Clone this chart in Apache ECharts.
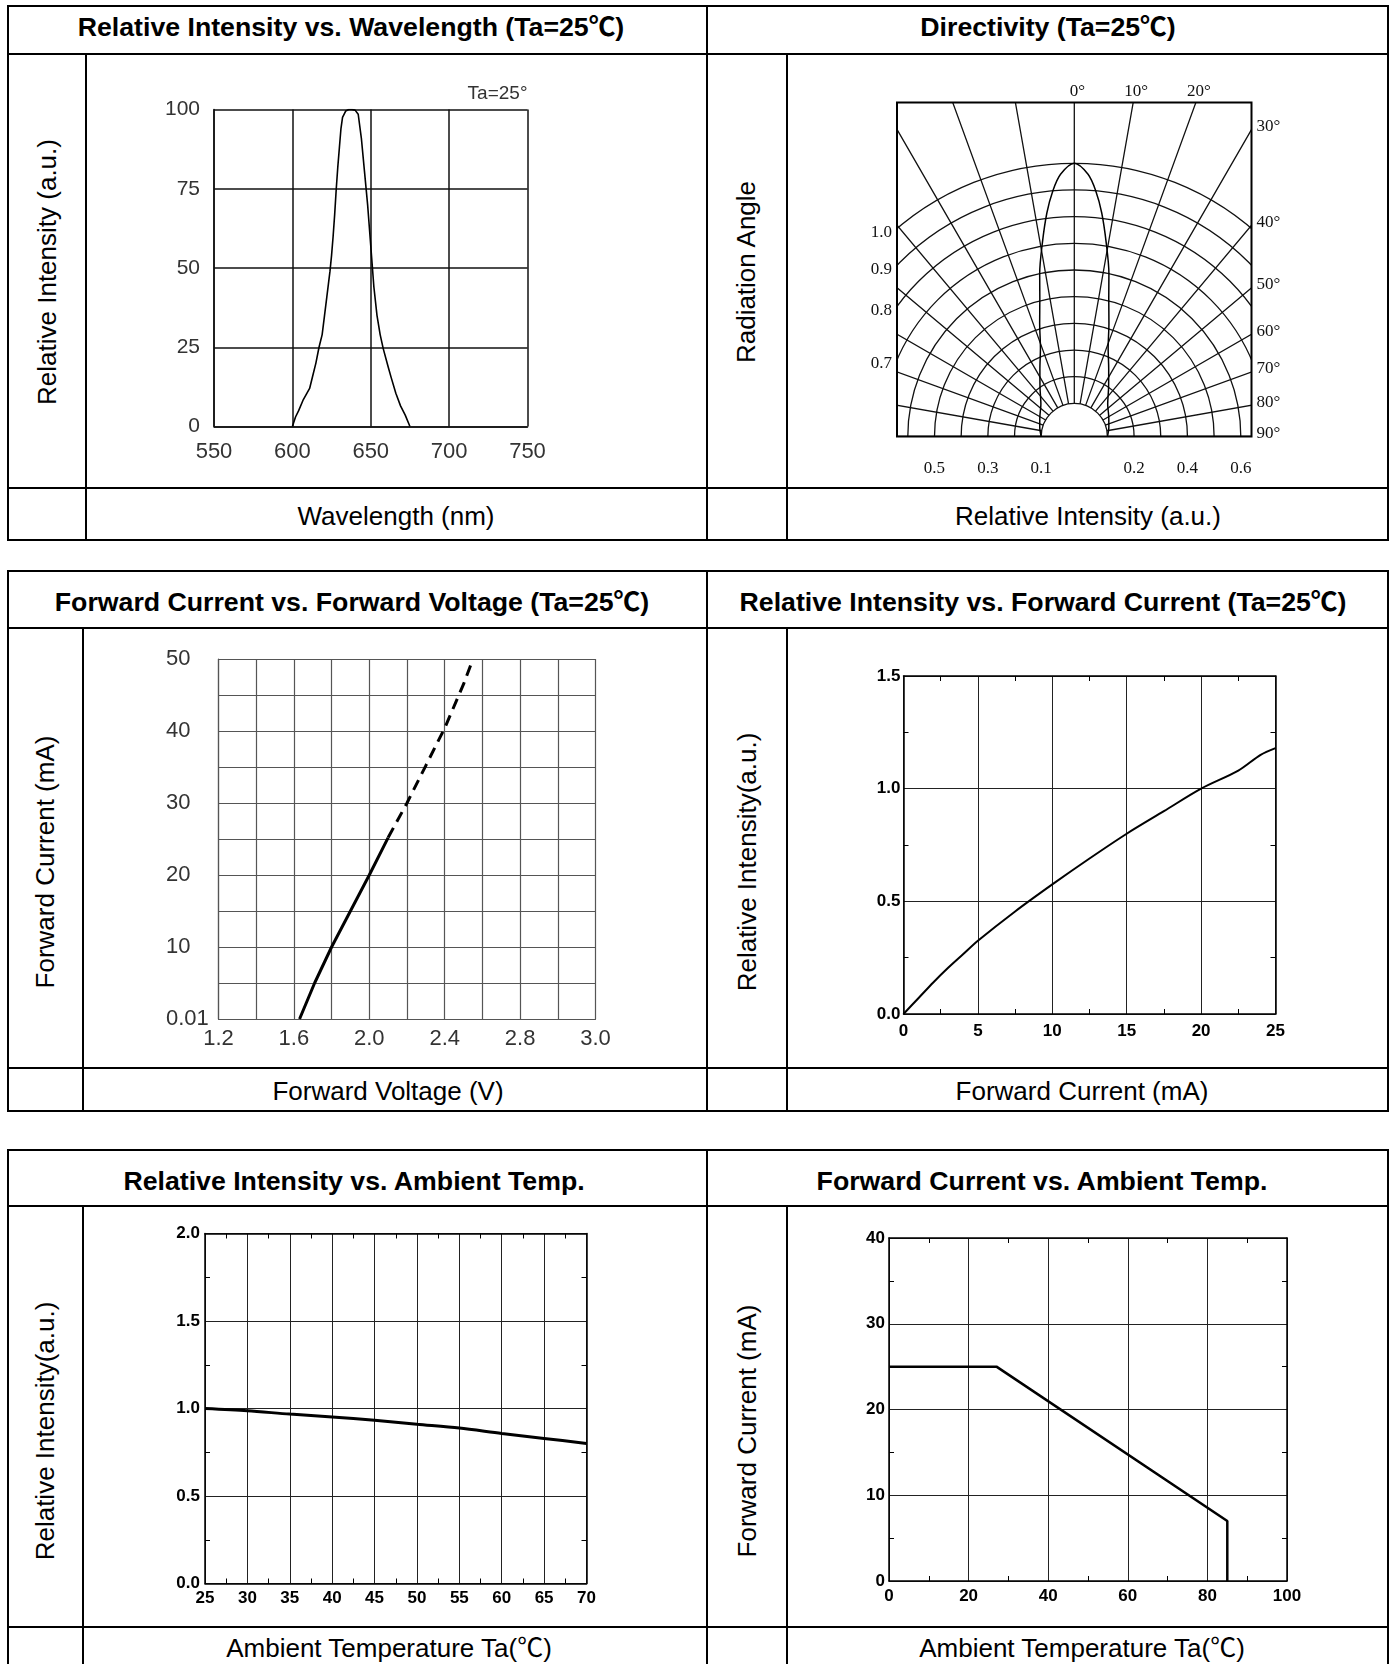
<!DOCTYPE html>
<html>
<head>
<meta charset="utf-8">
<title>LED characteristic curves</title>
<script src="https://cdn.jsdelivr.net/npm/echarts@6.0.0/dist/echarts.min.js"></script>
<style>
body{margin:0;background:#fff;}
#page{position:relative;width:1392px;height:1664px;overflow:hidden;background:#fff;
  font-family:"Liberation Sans",Arial,"Noto Sans CJK SC",sans-serif;color:#000;}
.chart{position:absolute;}
.rule{position:absolute;background:#000;z-index:5;}
.txt{position:absolute;white-space:nowrap;font-size:26px;line-height:1;transform:translate(-50%,-50%);z-index:6;}
.head{font-weight:bold;font-size:26.7px;}
.rot{transform:translate(-50%,-50%) rotate(-90deg);}
</style>
</head>
<body>
<div id="page"></div>
<script>
// ---- data ----
// relative intensity vs wavelength
const spectrumNm  = [600,602,604,607,611,613,615,617,619,620.5,622,623,624,625,626,627,628,629,630,631,
                     632,634,636,638,640,642,644,646,648,650,652,654,656,658,661,663,666,669,672,675];
const spectrumRel = [0,3,5,8.5,12,16,20,25,29,35,41,45,49,54,60,67,75,82,88,94,
                     97.5,99.5,100,100,99.8,98.5,91,80.5,70,57,44,35,29,24.5,19,15.5,10.5,6.5,3.6,0];

// directivity lobe (angle in degrees, relative intensity)
const lobeAngle     = [-90,-75,-60,-46,-35,-27,-21,-17,-14,-12,-9.4,-7,-5,-3,0,3,5,7,9.4,12,14,17,21,27,35,46,60,75,90];
const lobeIntensity = [0.1,0.11,0.125,0.15,0.2,0.26,0.33,0.42,0.51,0.6,0.71,0.82,0.9,0.96,1.0,
                       0.96,0.9,0.82,0.71,0.6,0.51,0.42,0.33,0.26,0.2,0.15,0.125,0.11,0.1];
const dirTopLabels    = ['0°','10°','20°'];
const dirRightLabels  = ['30°','40°','50°','60°','70°','80°','90°'];
const dirLeftLabels   = ['1.0','0.9','0.8','0.7'];
const dirBottomLeft   = ['0.5','0.3','0.1'];
const dirBottomRight  = ['0.2','0.4','0.6'];

// forward current vs forward voltage
const fvVoltSolid = [1.63,1.71,1.80,1.90,2.00,2.10];
const fvCurSolid  = [0,5,10,15,20,25.2];
const fvVoltDash  = [2.10,2.20,2.30,2.40,2.50,2.55];
const fvCurDash   = [25.2,30,35.2,40.4,46.5,50];
const fvXLabels = ['1.2','','1.6','','2.0','','2.4','','2.8','','3.0'];
const fvYLabels = ['0.01','','10','','20','','30','','40','','50'];

// relative intensity vs forward current
const ifCurrent   = [0,1,2,3,4,5,7.5,10,12.5,15,17.5,20,22.5,24,25];
const ifIntensity = [0,0.07,0.14,0.205,0.265,0.325,0.455,0.575,0.69,0.80,0.90,1.0,1.08,1.15,1.18];

// relative intensity vs ambient temperature
const taTemp      = [25,30,35,40,45,50,55,60,65,70];
const taIntensity = [1.0,0.987,0.968,0.952,0.933,0.91,0.888,0.857,0.829,0.80];

// forward current derating vs ambient temperature
const derateTemp    = [0,27,85,85];
const derateCurrent = [25,25,7,0];

const pairs = (xs, ys) => xs.map((x, i) => [x, ys[i]]);

// ---- table layout ----
const page = document.getElementById('page');

function rule(x1, y1, x2, y2) {
  const d = document.createElement('div');
  d.className = 'rule';
  d.style.left = Math.round(x1 - 1) + 'px';
  d.style.top = Math.round(y1 - 1) + 'px';
  d.style.width = (y1 === y2 ? Math.round(x2 - x1 + 2) : 2) + 'px';
  d.style.height = (y1 === y2 ? 2 : Math.round(y2 - y1 + 2)) + 'px';
  page.appendChild(d);
}
function table(top, head, plot, bottom, colA, colB) {
  [top, head, plot, bottom].forEach(y => rule(8, y, 1388, y));
  [8, 707, 1388].forEach(x => rule(x, top, x, bottom));
  [colA, colB].forEach(x => rule(x, head, x, bottom));
}
table(6, 54, 488, 540, 86, 787);
table(571, 628, 1068, 1111, 83, 787);
table(1150, 1206, 1627, 1700, 83, 787);

function text(str, x, y, cls) {
  const d = document.createElement('div');
  d.className = 'txt ' + (cls || '');
  d.style.left = x + 'px';
  d.style.top = y + 'px';
  d.textContent = str;
  page.appendChild(d);
}
text('Relative Intensity vs. Wavelength (Ta=25℃)', 351, 27, 'head');
text('Directivity (Ta=25℃)', 1048, 27, 'head');
text('Forward Current vs. Forward Voltage (Ta=25℃)', 352, 602, 'head');
text('Relative Intensity vs. Forward Current (Ta=25℃)', 1043, 602, 'head');
text('Relative Intensity vs. Ambient Temp.', 354, 1181, 'head');
text('Forward Current vs. Ambient Temp.', 1042, 1181, 'head');

text('Wavelength (nm)', 396, 516);
text('Relative Intensity (a.u.)', 1088, 516);
text('Forward Voltage (V)', 388, 1091);
text('Forward Current (mA)', 1082, 1091);
text('Ambient Temperature Ta(℃)', 389, 1648);
text('Ambient Temperature Ta(℃)', 1082, 1648);

text('Relative Intensity (a.u.)', 47, 272, 'rot');
text('Radiation Angle', 746, 272, 'rot');
text('Forward Current (mA)', 45, 862, 'rot');
text('Relative Intensity(a.u.)', 747, 862, 'rot');
text('Relative Intensity(a.u.)', 45, 1431, 'rot');
text('Forward Current (mA)', 747, 1431, 'rot');

// ---- charts ----
const P = {
  wave: {x: 86,  y: 55,   w: 621, h: 433},
  dir:  {x: 787, y: 55,   w: 601, h: 433},
  fv:   {x: 83,  y: 629,  w: 624, h: 439},
  ifc:  {x: 787, y: 629,  w: 601, h: 439},
  ta:   {x: 83,  y: 1206, w: 624, h: 421},
  der:  {x: 787, y: 1206, w: 601, h: 421}
};
function makeChart(box) {
  const div = document.createElement('div');
  div.className = 'chart';
  div.style.left = box.x + 'px';
  div.style.top = box.y + 'px';
  div.style.width = box.w + 'px';
  div.style.height = box.h + 'px';
  page.appendChild(div);
  return echarts.init(div, null, {renderer: 'canvas'});
}
function gridIn(box, x1, y1, x2, y2) {
  return {left: x1 - box.x, top: y1 - box.y, width: x2 - x1, height: y2 - y1,
          containLabel: false, outerBoundsMode: 'none'};
}
const thinFont = {fontFamily: '"Liberation Sans", Arial, sans-serif', color: '#333'};
const boldFont = {fontFamily: '"Liberation Sans", Arial, sans-serif', fontWeight: 'bold', fontSize: 17, color: '#000'};

// axis with only a frame line and inward minor ticks (top / right edges)
function edgeAxis(pos, min, max, interval) {
  return {
    type: 'value', position: pos, min: min, max: max, interval: interval,
    axisLine: {show: true, onZero: false, lineStyle: {color: '#000', width: 1.5}},
    axisTick: {show: false, inside: true},
    minorTick: {show: true, splitNumber: 2, length: 5, lineStyle: {color: '#000', width: 1}},
    axisLabel: {show: false},
    splitLine: {show: false}
  };
}
function mainAxis(pos, min, max, interval, label) {
  return {
    type: 'value', position: pos, min: min, max: max, interval: interval,
    axisLine: {show: true, onZero: false, lineStyle: {color: '#000', width: 1.5}},
    axisTick: {show: false, inside: true},
    minorTick: {show: true, splitNumber: 2, length: 5, lineStyle: {color: '#000', width: 1}},
    splitLine: {show: true, lineStyle: {color: '#222', width: 1}},
    axisLabel: Object.assign({showMinLabel: true, showMaxLabel: true}, boldFont, label)
  };
}

// 1. relative intensity vs wavelength
const waveChart = makeChart(P.wave);
waveChart.setOption({
  animation: false,
  grid: gridIn(P.wave, 214, 109.5, 527.5, 426.5),
  xAxis: {
    type: 'value', min: 550, max: 750, interval: 50,
    axisLine: {show: true, onZero: false, lineStyle: {color: '#111', width: 1.5}},
    axisTick: {show: false},
    splitLine: {show: true, lineStyle: {color: '#111', width: 1.5}},
    axisLabel: Object.assign({fontSize: 22, margin: 14, showMinLabel: true, showMaxLabel: true}, thinFont)
  },
  yAxis: {
    type: 'value', min: 0, max: 100, interval: 25,
    axisLine: {show: true, onZero: false, lineStyle: {color: '#111', width: 1.5}},
    axisTick: {show: false},
    splitLine: {show: true, lineStyle: {color: '#111', width: 1.5}},
    axisLabel: Object.assign({fontSize: 21, margin: 14, showMinLabel: true, showMaxLabel: true}, thinFont)
  },
  graphic: [{
    type: 'text', x: 527.5 - P.wave.x, y: 94 - P.wave.y, silent: true,
    style: {text: 'Ta=25°', fill: '#333', font: '19px "Liberation Sans", Arial, sans-serif',
            textAlign: 'right', textVerticalAlign: 'middle', align: 'right', verticalAlign: 'middle'}
  }],
  series: [{
    type: 'line', data: pairs(spectrumNm, spectrumRel), symbol: 'none', silent: true,
    lineStyle: {color: '#000', width: 1.6}
  }]
});

// 2. directivity (polar grid, clipped to the rectangular frame)
const dirChart = makeChart(P.dir);
const fr = {x1: 897 - P.dir.x, y1: 102.5 - P.dir.y, x2: 1251.5 - P.dir.x, y2: 436.5 - P.dir.y};
const cx = 1074.3 - P.dir.x, cy = fr.y2;
const arcColors = [];
for (let i = 0; i < 15; i++) arcColors.push(i < 10 ? '#111' : 'rgba(0,0,0,0)');
dirChart.setOption({
  animation: false,
  polar: {center: [cx, cy], radius: [33.1, 406.6]},
  angleAxis: {
    type: 'value', min: -90, max: 90, interval: 10, startAngle: 180, endAngle: 0, clockwise: true,
    axisLine: {show: false}, axisTick: {show: false}, axisLabel: {show: false},
    splitLine: {show: true, lineStyle: {color: '#111', width: 1.3}}
  },
  radiusAxis: {
    type: 'value', min: 0.1, max: 1.5, interval: 0.1,
    axisLine: {show: false}, axisTick: {show: false}, axisLabel: {show: false},
    splitLine: {show: true, lineStyle: {color: arcColors, width: 1.3}}
  },
  series: [{
    type: 'line', coordinateSystem: 'polar', symbol: 'none', smooth: 0.3, silent: true,
    data: lobeIntensity.map((v, i) => [v, lobeAngle[i]]),
    lineStyle: {color: '#000', width: 1.5}
  }]
});
const toPx = (v, a) => dirChart.convertToPixel({seriesIndex: 0}, [v, a]);
const dirFont = '17px "Liberation Serif", serif';
function dirText(str, x, y, align) {
  return {type: 'text', x: x, y: y, z: 102, silent: true,
    style: {text: str, fill: '#111', font: dirFont, textAlign: align, textVerticalAlign: 'middle',
            align: align, verticalAlign: 'middle'}};
}
const dirGraphics = [
  {type: 'rect', z: 100, silent: true, shape: {x: 0, y: 0, width: P.dir.w, height: fr.y1}, style: {fill: '#fff'}},
  {type: 'rect', z: 100, silent: true, shape: {x: 0, y: fr.y2, width: P.dir.w, height: P.dir.h - fr.y2}, style: {fill: '#fff'}},
  {type: 'rect', z: 100, silent: true, shape: {x: 0, y: 0, width: fr.x1, height: P.dir.h}, style: {fill: '#fff'}},
  {type: 'rect', z: 100, silent: true, shape: {x: fr.x2, y: 0, width: P.dir.w - fr.x2, height: P.dir.h}, style: {fill: '#fff'}},
  {type: 'rect', z: 101, silent: true, shape: {x: fr.x1, y: fr.y1, width: fr.x2 - fr.x1, height: fr.y2 - fr.y1},
   style: {fill: 'none', stroke: '#000', lineWidth: 2}}
];
dirTopLabels.forEach(s => {
  const p = toPx(1, parseFloat(s));
  const x = cx + (p[0] - cx) * (cy - fr.y1) / (cy - p[1]);
  dirGraphics.push(dirText(s, x + 3, fr.y1 - 11, 'center'));
});
dirRightLabels.forEach(s => {
  const p = toPx(1, parseFloat(s));
  const y = cy + (p[1] - cy) * (fr.x2 - cx) / (p[0] - cx);
  dirGraphics.push(dirText(s, fr.x2 + 5, y - 3, 'left'));
});
dirLeftLabels.forEach(s => {
  const r = cy - toPx(parseFloat(s), 0)[1];
  const hw = cx - fr.x1;
  const y = cy - Math.sqrt(r * r - hw * hw);
  dirGraphics.push(dirText(s, fr.x1 - 5, y + 4, 'right'));
});
dirBottomLeft.forEach(s => {
  dirGraphics.push(dirText(s, toPx(parseFloat(s), -90)[0], fr.y2 + 32, 'center'));
});
dirBottomRight.forEach(s => {
  dirGraphics.push(dirText(s, toPx(parseFloat(s), 90)[0], fr.y2 + 32, 'center'));
});
dirChart.setOption({graphic: dirGraphics});

// 3. forward current vs forward voltage
const fvChart = makeChart(P.fv);
fvChart.setOption({
  animation: false,
  grid: gridIn(P.fv, 218.5, 659, 595.5, 1019),
  xAxis: {
    type: 'value', min: 1.2, max: 3.2, interval: 0.2,
    axisLine: {show: true, onZero: false, lineStyle: {color: '#555', width: 1.2}},
    axisTick: {show: false},
    splitLine: {show: true, lineStyle: {color: '#555', width: 1.2}},
    axisLabel: Object.assign({fontSize: 22, margin: 9, showMinLabel: true, showMaxLabel: true,
      formatter: v => fvXLabels[Math.round((v - 1.2) / 0.2)]}, thinFont)
  },
  yAxis: {
    type: 'value', min: 0, max: 50, interval: 5,
    axisLine: {show: true, onZero: false, lineStyle: {color: '#555', width: 1.2}},
    axisTick: {show: false},
    splitLine: {show: true, lineStyle: {color: '#555', width: 1.2}},
    axisLabel: Object.assign({fontSize: 22, margin: 52.5, align: 'left', showMinLabel: true, showMaxLabel: true,
      formatter: v => fvYLabels[Math.round(v / 5)]}, thinFont)
  },
  series: [
    {type: 'line', data: pairs(fvVoltSolid, fvCurSolid), symbol: 'none', silent: true,
     lineStyle: {color: '#000', width: 3}},
    {type: 'line', data: pairs(fvVoltDash, fvCurDash), symbol: 'none', silent: true,
     lineStyle: {color: '#000', width: 3, type: [11, 7]}}
  ]
});

// 4. relative intensity vs forward current
const ifChart = makeChart(P.ifc);
ifChart.setOption({
  animation: false,
  grid: gridIn(P.ifc, 903.5, 676, 1275.5, 1014),
  xAxis: [mainAxis('bottom', 0, 25, 5, {margin: 9}), edgeAxis('top', 0, 25, 5)],
  yAxis: [mainAxis('left', 0, 1.5, 0.5, {margin: 3, formatter: v => v.toFixed(1)}), edgeAxis('right', 0, 1.5, 0.5)],
  series: [{
    type: 'line', data: pairs(ifCurrent, ifIntensity), symbol: 'none', smooth: 0.3, silent: true,
    lineStyle: {color: '#000', width: 2}
  }]
});

// 5. relative intensity vs ambient temperature
const taChart = makeChart(P.ta);
taChart.setOption({
  animation: false,
  grid: gridIn(P.ta, 205, 1233.5, 586.5, 1583.5),
  xAxis: [mainAxis('bottom', 25, 70, 5, {margin: 6}), edgeAxis('top', 25, 70, 5)],
  yAxis: [mainAxis('left', 0, 2, 0.5, {margin: 5, formatter: v => v.toFixed(1)}), edgeAxis('right', 0, 2, 0.5)],
  series: [{
    type: 'line', data: pairs(taTemp, taIntensity), symbol: 'none', smooth: 0.3, silent: true,
    lineStyle: {color: '#000', width: 3}
  }]
});

// 6. forward current vs ambient temperature
const derChart = makeChart(P.der);
derChart.setOption({
  animation: false,
  grid: gridIn(P.der, 889, 1238, 1287, 1581),
  xAxis: [mainAxis('bottom', 0, 100, 20, {margin: 7}), edgeAxis('top', 0, 100, 20)],
  yAxis: [mainAxis('left', 0, 40, 10, {margin: 4}), edgeAxis('right', 0, 40, 10)],
  series: [{
    type: 'line', data: pairs(derateTemp, derateCurrent), symbol: 'none', silent: true,
    lineStyle: {color: '#000', width: 2.5}
  }]
});
</script>
</body>
</html>
